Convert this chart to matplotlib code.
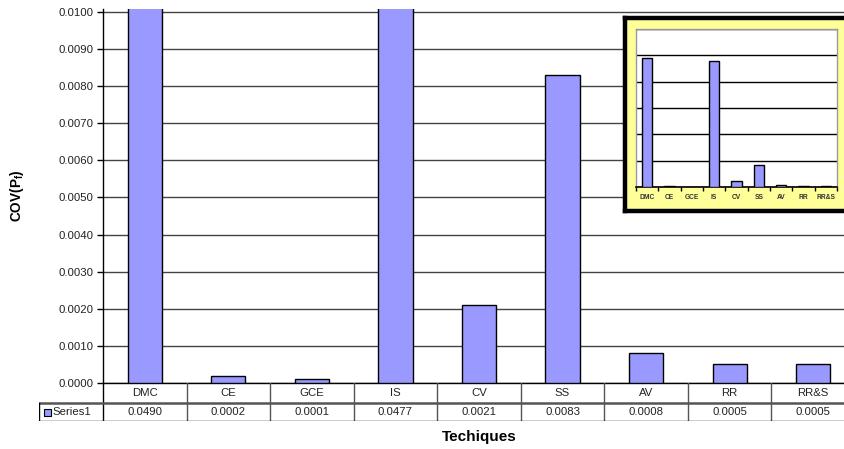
import matplotlib
matplotlib.use('Agg')
import matplotlib.pyplot as plt
from matplotlib.patches import Rectangle
import numpy as np

plt.rcParams['font.family'] = ['Liberation Sans', 'DejaVu Sans']
plt.rcParams['mathtext.fontset'] = 'custom'
plt.rcParams['mathtext.rm'] = 'Liberation Sans'
plt.rcParams['mathtext.bf'] = 'Liberation Sans:bold'

# Données : coefficient de variation de Pf par technique
techniques = ['DMC', 'CE', 'GCE', 'IS', 'CV', 'SS', 'AV', 'RR', 'RR&S']
cov_pf = [0.0490, 0.0002, 0.0001, 0.0477, 0.0021, 0.0083, 0.0008, 0.0005, 0.0005]
series_name = 'Series1'
main_ticks = [0.0000, 0.0010, 0.0020, 0.0030, 0.0040, 0.0050,
              0.0060, 0.0070, 0.0080, 0.0090, 0.0100]
inset_ticks = [0.00, 0.01, 0.02, 0.03, 0.04, 0.05, 0.06]

bar_color = '#9999FF'
txt_color = '#222222'
fs = 8.2
W, H = 844, 449
fig = plt.figure(figsize=(W / 100, H / 100), dpi=100)


def px_axes(x0, y0, x1, y1):
    # rectangle en pixels (origine en haut à gauche) -> coordonnées figure
    return fig.add_axes([x0 / W, 1 - y1 / H, (x1 - x0) / W, (y1 - y0) / H])


x = np.arange(len(techniques))

# ---- graphique principal (zoomé sur 0 - 0.01) ----
ax = px_axes(103, 9, 855, 383)
ax.bar(x, cov_pf, width=0.41, color=bar_color, edgecolor='black', linewidth=1, zorder=3)
ax.set_xlim(-0.5, len(techniques) - 0.5)
ax.set_ylim(0, 0.01008)
ax.set_yticks(main_ticks)
ax.set_yticklabels(['%.4f' % t for t in main_ticks], fontsize=fs, color=txt_color)
ax.yaxis.grid(True, color='#444444', linewidth=1, zorder=0)
ax.set_xticks([])
for s in ['top', 'right']:
    ax.spines[s].set_visible(False)
ax.spines['left'].set_linewidth(1)
ax.spines['bottom'].set_linewidth(1)
ax.tick_params(axis='y', length=4, width=1, pad=3)
ax.set_ylabel(r'COV(P$_{\mathbf{f}}$)', fontsize=9.8, fontweight='bold')
ax.yaxis.set_label_coords(-(103 - 26) / 752, 0.5)

# ---- tableau de données sous l'axe ----
ppu = 752 / len(techniques)
left_ext = (103 - 39) / ppu
tb = px_axes(39, 383, 855, 421)
tb.set_xlim(-0.5 - left_ext, len(techniques) - 0.5)
tb.set_ylim(0, 38)
tb.axis('off')
for i in range(len(techniques) + 1):
    tb.plot([i - 0.5, i - 0.5], [0, 38], color='#555555' if i else 'black', lw=1)
tb.plot([-0.5 - left_ext, len(techniques) - 0.5], [18, 18], color='#555555', lw=1.8)
tb.plot([-0.5 - left_ext, len(techniques) - 0.5], [0.5, 0.5], color='black', lw=1)
tb.plot([-0.5 - left_ext, -0.5 - left_ext], [0.5, 18], color='black', lw=1)
for i, (name, val) in enumerate(zip(techniques, cov_pf)):
    tb.text(i, 28, name, ha='center', va='center', fontsize=fs, color=txt_color)
    tb.text(i, 9, '%.4f' % val, ha='center', va='center', fontsize=fs, color=txt_color)
tb.add_patch(Rectangle((-0.5 - left_ext + 0.06, 5.5), 0.08, 7, facecolor=bar_color,
                       edgecolor='black', lw=0.8))
tb.text(-0.5 - left_ext + 0.165, 9, series_name, ha='left', va='center', fontsize=fs,
        color=txt_color)
fig.text((103 + 855) / 2 / W, 1 - 437 / H, 'Techiques', ha='center', va='center',
         fontsize=11, fontweight='bold')

# ---- encart : vue complète ----
frame = px_axes(625, 18, 858, 211)
frame.set_facecolor('#FFFF99')
frame.set_xticks([])
frame.set_yticks([])
for s in frame.spines.values():
    s.set_linewidth(3.2)
    s.set_color('black')

ins = px_axes(636, 29, 837, 187)
ins.bar(x, cov_pf, width=0.45, color=bar_color, edgecolor='black', linewidth=1, zorder=3)
ins.set_xlim(-0.5, len(techniques) - 0.5)
ins.set_ylim(0, 0.06)
ins.set_yticks(inset_ticks)
ins.tick_params(axis='y', length=0, labelleft=False)
ins.yaxis.grid(True, color='black', linewidth=1, zorder=0)
ins.set_xticks(x)
ins.set_xticklabels(techniques, fontsize=4.8, fontweight='bold', color='#333333')
ins.set_xticks(np.arange(len(techniques) + 1) - 0.5, minor=True)
ins.tick_params(axis='x', which='major', length=0, pad=5)
ins.tick_params(axis='x', which='minor', length=3, width=1, direction='out')
for s in ['top', 'right', 'left']:
    ins.spines[s].set_color('#999999')
    ins.spines[s].set_linewidth(1)
ins.spines['bottom'].set_color('black')
ins.spines['bottom'].set_linewidth(1.2)

fig.savefig('out.png', dpi=100)
